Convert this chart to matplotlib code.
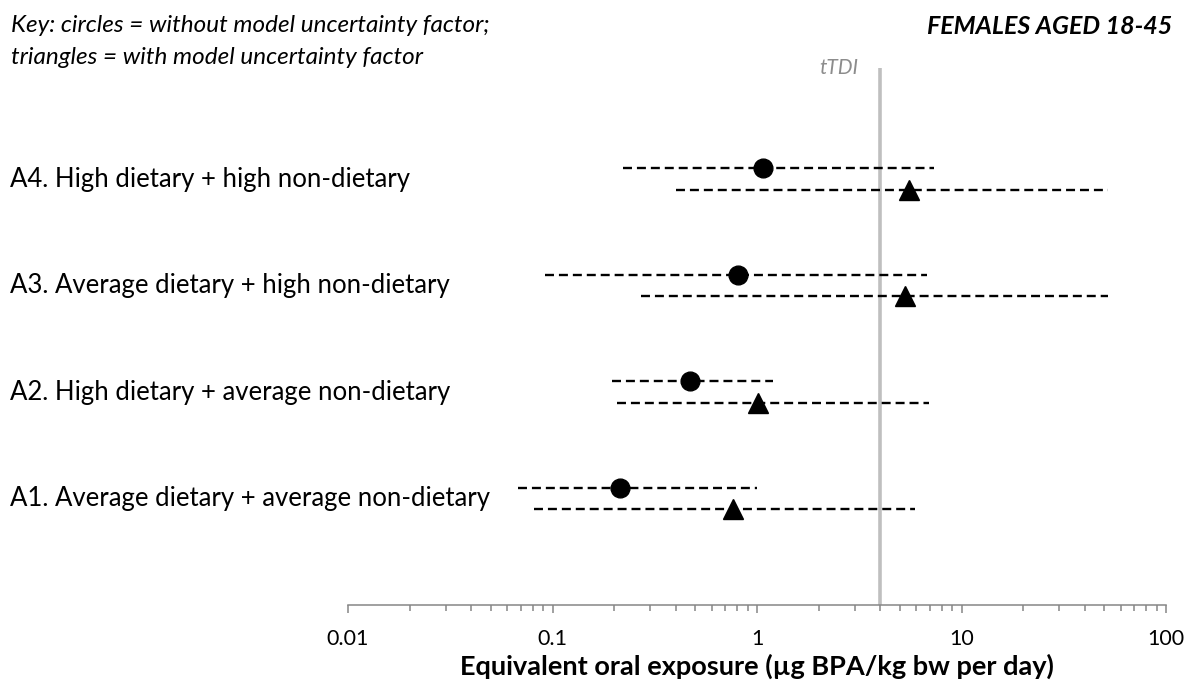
import numpy as np
import matplotlib
matplotlib.use("Agg")
import matplotlib.pyplot as plt
from matplotlib.transforms import blended_transform_factory
from matplotlib.ticker import LogLocator, NullFormatter, FixedFormatter, FixedLocator

plt.rcParams['font.family'] = ['Lato', 'DejaVu Sans']

# scenario labels, bottom to top
categories = ["A1. Average dietary + average non-dietary",
              "A2. High dietary + average non-dietary",
              "A3. Average dietary + high non-dietary",
              "A4. High dietary + high non-dietary"]

# without model uncertainty factor (circles)
circ_mid = [0.215, 0.47, 0.81, 1.07]
circ_lo = [0.068, 0.195, 0.092, 0.22]
circ_hi = [1.0, 1.2, 6.8, 7.3]

# with model uncertainty factor (triangles)
tri_mid = [0.76, 1.01, 5.27, 5.54]
tri_lo = [0.081, 0.207, 0.27, 0.40]
tri_hi = [5.9, 6.9, 52.0, 52.0]

ttdi = 4.0
xticks = [0.01, 0.1, 1, 10, 100]
xticklabels = ["0.01", "0.1", "1", "10", "100"]

fig = plt.figure(figsize=(11.9, 6.84), dpi=100)
ax = fig.add_axes([348/1190, 1 - 605/684, (1166-348)/1190, (605-68)/684])

ypos = np.arange(1, len(categories) + 1)
off = 0.103
dash = (0, (3.8, 2.1))

for i, y in enumerate(ypos):
    ax.plot([circ_lo[i], circ_hi[i]], [y + off, y + off], color='black', lw=1.7, linestyle=dash, zorder=2)
    ax.plot([tri_lo[i], tri_hi[i]], [y - off, y - off], color='black', lw=1.7, linestyle=dash, zorder=2)

ax.plot(circ_mid, ypos + off, 'o', color='black', ms=13.5, zorder=3)
ax.plot(tri_mid, ypos - off, '^', color='black', ms=14, zorder=3)

# tolerable daily intake line
ax.axvline(ttdi, color='#bfbfbf', lw=2.6, zorder=1)

ax.set_xscale('log')
ax.set_xlim(0.01, 100)
ax.set_ylim(0, (605-68)/106.5)

ax.xaxis.set_major_locator(FixedLocator(xticks))
ax.xaxis.set_major_formatter(FixedFormatter(xticklabels))
ax.xaxis.set_minor_locator(LogLocator(base=10, subs=np.arange(2, 10)))
ax.xaxis.set_minor_formatter(NullFormatter())
ax.tick_params(axis='x', which='major', direction='out', length=5.5, width=1.1, color='#868686',
               labelsize=15.5, pad=12)
ax.tick_params(axis='x', which='minor', direction='out', length=4.3, width=1.1, color='#868686')
ax.set_yticks([])

for s in ['top', 'right', 'left']:
    ax.spines[s].set_visible(False)
ax.spines['bottom'].set_color('#868686')
ax.spines['bottom'].set_linewidth(1.1)

ax.set_xlabel("Equivalent oral exposure (µg BPA/kg bw per day)", fontsize=19.5, fontweight='bold')
ax.xaxis.set_label_coords(0.5, -0.09)

trans = blended_transform_factory(fig.transFigure, ax.transData)
for y, lab in zip(ypos, categories):
    ax.text(10/1190, y, lab, transform=trans, fontsize=18.5, ha='left', va='center')

fig.text(11/1190, 1 - 25/684, "Key: circles = without model uncertainty factor;", fontsize=17.5,
         style='italic', ha='left', va='center')
fig.text(11/1190, 1 - 58/684, "triangles = with model uncertainty factor", fontsize=17.5,
         style='italic', ha='left', va='center')
fig.text(1172/1190, 1 - 27/684, "FEMALES AGED 18-45", fontsize=18, style='italic', fontweight='bold',
         ha='right', va='center')
fig.text(858/1190, 1 - 68/684, "tTDI", fontsize=15, style='italic', color='#8c8c8c', ha='right', va='center')

fig.savefig("out.png", dpi=100)
